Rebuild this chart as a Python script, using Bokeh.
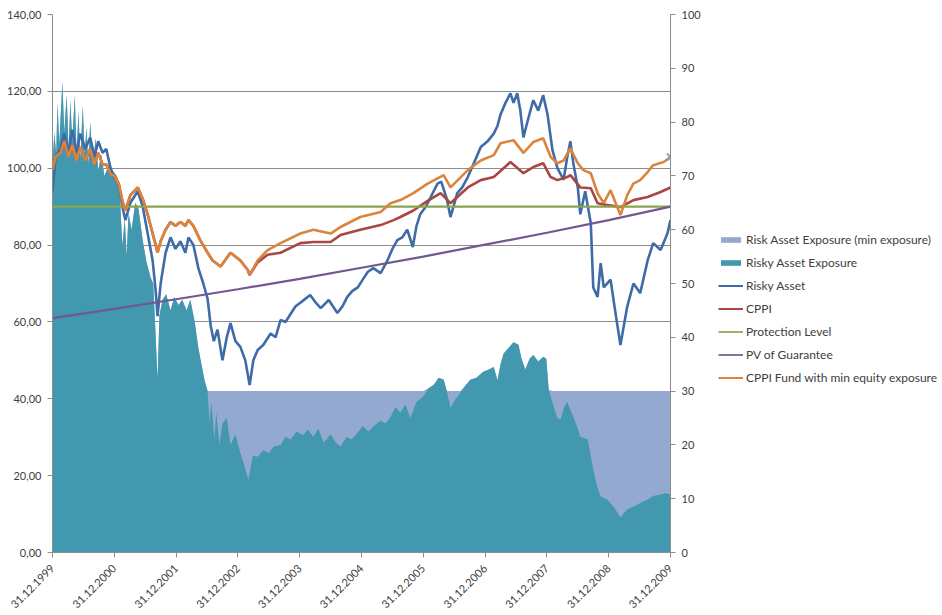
import math
from bokeh.plotting import figure
from bokeh.layouts import row
from bokeh.models import Range1d, LinearAxis, FixedTicker, Legend, LegendItem
from bokeh.embed import file_html
from bokeh.resources import INLINE

# ---------------- data ----------------
year_ticks = [2000, 2001, 2002, 2003, 2004, 2005, 2006, 2007, 2008, 2009, 2010]
year_labels = ["31.12.1999", "31.12.2000", "31.12.2001", "31.12.2002", "31.12.2003",
               "31.12.2004", "31.12.2005", "31.12.2006", "31.12.2007", "31.12.2008",
               "31.12.2009"]
left_ticks = [0, 20, 40, 60, 80, 100, 120, 140]
left_labels = ["0,00", "20,00", "40,00", "60,00", "80,00", "100,00", "120,00", "140,00"]
right_ticks = [0, 10, 20, 30, 40, 50, 60, 70, 80, 90, 100]
series_names = ["Risk Asset Exposure (min exposure)", "Risky Asset Exposure", "Risky Asset",
                "CPPI", "Protection Level", "PV of Guarantee",
                "CPPI Fund with min equity exposure"]

risky_t = [2000.00, 2000.05, 2000.13, 2000.19, 2000.26, 2000.32, 2000.39, 2000.45, 2000.53, 2000.61,
           2000.68, 2000.74, 2000.81, 2000.87, 2000.94, 2001.00, 2001.07, 2001.13, 2001.18, 2001.26,
           2001.38, 2001.46, 2001.54, 2001.62, 2001.67, 2001.70, 2001.75, 2001.83, 2001.91, 2001.99,
           2002.07, 2002.15, 2002.20, 2002.28, 2002.36, 2002.44, 2002.51, 2002.56, 2002.61, 2002.67,
           2002.75, 2002.82, 2002.88, 2002.96, 2003.04, 2003.12, 2003.19, 2003.25, 2003.32, 2003.41,
           2003.53, 2003.61, 2003.69, 2003.77, 2003.85, 2003.93, 2004.01, 2004.09, 2004.17, 2004.26,
           2004.34, 2004.47, 2004.61, 2004.69, 2004.77, 2004.85, 2004.94, 2005.02, 2005.10, 2005.19,
           2005.31, 2005.42, 2005.50, 2005.58, 2005.66, 2005.74, 2005.83, 2005.89, 2005.95, 2006.04,
           2006.12, 2006.23, 2006.29, 2006.38, 2006.44, 2006.55, 2006.63, 2006.72, 2006.81, 2006.93,
           2007.04, 2007.14, 2007.20, 2007.25, 2007.33, 2007.41, 2007.46, 2007.52, 2007.57, 2007.62,
           2007.70, 2007.78, 2007.86, 2007.94, 2008.01, 2008.09, 2008.17, 2008.27, 2008.33, 2008.38,
           2008.43, 2008.50, 2008.54, 2008.62, 2008.71, 2008.75, 2008.82, 2008.87, 2008.92, 2009.03,
           2009.11, 2009.19, 2009.30, 2009.40, 2009.51, 2009.63, 2009.72, 2009.84, 2009.95, 2010.00]
risky_asset = [94, 103, 105, 109, 104, 110, 104, 109, 105, 108,
               103, 107, 104, 105, 100, 97.5, 96, 90, 86.5, 91,
               94, 90, 83, 76, 68, 61.5, 70, 78, 82, 79,
               81, 78, 82, 80, 74, 70, 66, 59, 55, 58,
               50, 56, 59.7, 55, 53.5, 50, 43.6, 50, 52.7, 54,
               57, 56, 60.5, 60, 62, 64, 65, 66, 67, 65,
               63.6, 65.7, 62.3, 64, 66.5, 68, 69, 71, 73, 74,
               72.7, 76, 79, 81.3, 82, 84, 79.5, 85, 88, 90,
               92.5, 96, 96.5, 92, 87.3, 93.5, 95, 97.7, 101, 105.5,
               107, 109, 111, 114, 117, 119.5, 117, 119.5, 115, 108,
               113, 117.7, 115, 119, 114, 104.7, 100, 97, 103, 107,
               101, 95, 88, 94, 85.7, 69, 66.5, 75.3, 69, 71,
               62.3, 54, 64, 70, 67.5, 76, 80.5, 78.7, 83, 86.5]

fund_t = [2000.00, 2000.05, 2000.13, 2000.19, 2000.26, 2000.32, 2000.39, 2000.45, 2000.53, 2000.61,
          2000.68, 2000.74, 2000.81, 2000.87, 2000.94, 2001.00, 2001.07, 2001.13, 2001.18, 2001.26,
          2001.38, 2001.46, 2001.54, 2001.62, 2001.67, 2001.70, 2001.75, 2001.83, 2001.91, 2001.99,
          2002.07, 2002.15, 2002.20, 2002.28, 2002.39, 2002.51, 2002.59, 2002.72, 2002.88, 2003.04,
          2003.16, 2003.19, 2003.32, 2003.48, 2003.69, 2004.01, 2004.22, 2004.50, 2004.66, 2004.98,
          2005.31, 2005.47, 2005.63, 2005.84, 2006.07, 2006.33, 2006.44, 2006.72, 2006.93, 2007.14,
          2007.25, 2007.46, 2007.62, 2007.78, 2007.94, 2008.06, 2008.17, 2008.27, 2008.38, 2008.50,
          2008.59, 2008.71, 2008.82, 2008.92, 2009.03, 2009.11, 2009.19, 2009.30, 2009.40, 2009.51,
          2009.63, 2009.72, 2009.89, 2010.00]
cppi_fund_min = [99.5, 103, 104, 107, 103, 106, 102, 105.5, 102, 105,
                 101, 104, 101, 101, 98.5, 98, 96, 91.5, 89, 93,
                 95, 92, 88, 83, 80, 78, 81, 84, 86, 85,
                 86, 85, 86.5, 85, 81.3, 78, 76, 74.4, 78, 76,
                 73.5, 72.2, 76, 78.7, 80.5, 83, 84, 83, 84.7, 87.3,
                 88.6, 90.9, 91.7, 93.5, 96, 98.2, 95, 99.5, 102, 103.4,
                 106.5, 107.3, 104, 106.8, 107.8, 102.9, 101.3, 102, 105.2, 101.3,
                 99.5, 98.7, 93.5, 90.9, 94.3, 91, 87.8, 93, 96, 96.9,
                 99, 100.8, 101.6, 102.9]

cppi_t = [2000.00, 2000.05, 2000.13, 2000.19, 2000.26, 2000.32, 2000.39, 2000.45, 2000.53, 2000.61,
          2000.68, 2000.74, 2000.81, 2000.87, 2000.94, 2001.00, 2001.07, 2001.13, 2001.18, 2001.26,
          2001.38, 2001.46, 2001.54, 2001.62, 2001.67, 2001.70, 2001.75, 2001.83, 2001.91, 2001.99,
          2002.07, 2002.15, 2002.20, 2002.28, 2002.39, 2002.51, 2002.59, 2002.72, 2002.88, 2003.04,
          2003.16, 2003.19, 2003.32, 2003.48, 2003.69, 2004.01, 2004.22, 2004.50, 2004.66, 2004.98,
          2005.31, 2005.52, 2005.63, 2005.84, 2006.07, 2006.28, 2006.44, 2006.72, 2006.93, 2007.14,
          2007.41, 2007.62, 2007.78, 2007.94, 2008.06, 2008.17, 2008.33, 2008.38, 2008.54, 2008.71,
          2008.82, 2008.98, 2009.19, 2009.40, 2009.63, 2009.84, 2010.00]
cppi = [99.5, 103, 104, 107, 103, 106, 102, 105.5, 102, 105,
        101, 104, 101, 101, 98.5, 98, 96, 91.5, 89, 93,
        95, 92, 88, 83, 80, 78, 81, 84, 86, 85,
        86, 85, 86.5, 85, 81.3, 78, 76, 74.4, 78, 76,
        73.5, 72.2, 75.5, 77.5, 78, 80.5, 80.8, 80.8, 82.6, 84,
        85.2, 86.5, 87.3, 89, 91.5, 93.5, 90.9, 95, 96.9, 97.7,
        101.6, 98.7, 100.3, 101.3, 97.7, 96.9, 97.7, 98.2, 95, 94.8,
        90.9, 90.4, 89.9, 91.7, 92.5, 93.8, 95]

level_t = [2000, 2010]
protection_level = [90, 90]

pv_t = [2000, 2001, 2002, 2003, 2004, 2005, 2006, 2007, 2008, 2009, 2010]
pv_guarantee = [61, 63.4, 65.9, 68.5, 71.2, 74.1, 77.0, 80.1, 83.2, 86.5, 90]

exp_t = [2000.00, 2000.03, 2000.06, 2000.08, 2000.11, 2000.16, 2000.19, 2000.23, 2000.26, 2000.29,
         2000.32, 2000.36, 2000.39, 2000.42, 2000.45, 2000.49, 2000.52, 2000.55, 2000.58, 2000.61,
         2000.65, 2000.70, 2000.74, 2000.79, 2000.84, 2000.91, 2000.97, 2001.04, 2001.07, 2001.10,
         2001.13, 2001.17, 2001.20, 2001.23, 2001.28, 2001.34, 2001.39, 2001.46, 2001.52, 2001.59,
         2001.63, 2001.67, 2001.70, 2001.73, 2001.78, 2001.84, 2001.91, 2001.97, 2002.04, 2002.10,
         2002.17, 2002.23, 2002.30, 2002.36, 2002.41, 2002.46, 2002.51, 2002.54, 2002.57, 2002.62,
         2002.65, 2002.70, 2002.75, 2002.82, 2002.88, 2002.96, 2003.04, 2003.11, 2003.17, 2003.24,
         2003.32, 2003.41, 2003.50, 2003.58, 2003.69, 2003.77, 2003.85, 2003.95, 2004.05, 2004.13,
         2004.22, 2004.30, 2004.39, 2004.50, 2004.58, 2004.66, 2004.76, 2004.84, 2004.94, 2005.02,
         2005.11, 2005.19, 2005.31, 2005.39, 2005.47, 2005.55, 2005.63, 2005.71, 2005.79, 2005.89,
         2006.00, 2006.08, 2006.17, 2006.25, 2006.33, 2006.38, 2006.44, 2006.52, 2006.60, 2006.68,
         2006.76, 2006.86, 2006.97, 2007.06, 2007.14, 2007.20, 2007.25, 2007.30, 2007.38, 2007.46,
         2007.54, 2007.59, 2007.65, 2007.72, 2007.78, 2007.86, 2007.94, 2007.99, 2008.03, 2008.11,
         2008.17, 2008.22, 2008.28, 2008.33, 2008.38, 2008.43, 2008.50, 2008.54, 2008.66, 2008.71,
         2008.75, 2008.82, 2008.87, 2008.98, 2009.08, 2009.19, 2009.26, 2009.30, 2009.39, 2009.47,
         2009.55, 2009.63, 2009.72, 2009.84, 2009.92, 2010.00]
risky_exposure = [72, 78, 74, 83.5, 76, 87.5, 78, 85, 75, 84,
                  76, 85, 74, 82, 73, 83, 74, 79, 72, 80,
                  72, 77, 71, 74, 70, 72, 71, 70, 69, 64,
                  57, 62, 55, 63, 60, 65, 64, 58, 54, 51,
                  50, 40, 32, 44, 47, 48, 45, 47.5, 46, 47,
                  45, 47, 43, 38, 35, 32, 30, 24, 28, 21,
                  26, 20, 24, 25, 20, 22, 18.5, 16, 13.5, 18,
                  17.8, 19, 18.5, 19.7, 20, 21.5, 21, 22.5, 21.8, 22.8,
                  21.5, 23, 20.4, 22, 20.5, 19.7, 21.5, 21, 22.3, 23.5,
                  22.5, 23.4, 24.5, 24, 25.2, 27, 26, 27.5, 25, 28,
                  29, 30.5, 31.2, 32.5, 32.1, 30, 26.9, 28.5, 29.7, 31,
                  32.1, 32.5, 33.6, 34, 34.5, 32, 35, 37, 38, 39.1,
                  38.6, 36, 34, 36, 36.7, 35.5, 36.4, 36, 30.2, 27.1,
                  25, 24.7, 27, 28, 26.5, 25.2, 23, 21.5, 21, 18,
                  15.4, 12, 10.4, 9.8, 8.5, 6.5, 7.5, 8, 8.5, 8.9,
                  9.5, 9.8, 10.5, 10.8, 11, 10.8]
min_exposure = [72, 78, 74, 83.5, 76, 87.5, 78, 85, 75, 84,
                76, 85, 74, 82, 73, 83, 74, 79, 72, 80,
                72, 77, 71, 74, 70, 72, 71, 70, 69, 64,
                57, 62, 55, 63, 60, 65, 64, 58, 54, 51,
                50, 40, 32, 44, 47, 48, 45, 47.5, 46, 47,
                45, 47, 43, 38, 35, 32, 30, 30, 30, 30,
                30, 30, 30, 30, 30, 30, 30, 30, 30, 30,
                30, 30, 30, 30, 30, 30, 30, 30, 30, 30,
                30, 30, 30, 30, 30, 30, 30, 30, 30, 30,
                30, 30, 30, 30, 30, 30, 30, 30, 30, 30,
                30, 30.5, 31.2, 32.5, 32.1, 30, 30, 30, 30, 31,
                32.1, 32.5, 33.6, 34, 34.5, 32, 35, 37, 38, 39.1,
                38.6, 36, 34, 36, 36.7, 35.5, 36.4, 36, 30.2, 30,
                30, 30, 30, 30, 30, 30, 30, 30, 30, 30,
                30, 30, 30, 30, 30, 30, 30, 30, 30, 30,
                30, 30, 30, 30, 30, 30]

# ---------------- styling ----------------
FONT = "Lato"
TXT = "#404040"
GRID = "#8c8c8c"
C_MIN, C_EXP, C_ASSET = "#93A9CF", "#4198AF", "#3F6BA8"
C_CPPI, C_LEVEL, C_PV, C_FUND = "#AA4643", "#89A54E", "#71588F", "#DB843D"
LW = 2.6


def draw_series(fig, lw=LW, y_name="default"):
    """Draw every series on fig; returns the renderers in legend order."""
    kw = {} if y_name == "default" else {"y_range_name": y_name}
    return [
        fig.varea(x=exp_t, y1=0, y2=min_exposure, fill_color=C_MIN, **kw),
        fig.varea(x=exp_t, y1=0, y2=risky_exposure, fill_color=C_EXP, **kw),
        fig.line(risky_t, risky_asset, line_color=C_ASSET, line_width=lw),
        fig.line(cppi_t, cppi, line_color=C_CPPI, line_width=lw),
        fig.line(level_t, protection_level, line_color=C_LEVEL, line_width=lw * 0.85),
        fig.line(pv_t, pv_guarantee, line_color=C_PV, line_width=lw * 0.85),
        fig.line(fund_t, cppi_fund_min, line_color=C_FUND, line_width=lw),
    ]


# ---------------- main chart ----------------
p = figure(width=708, height=614, output_backend="svg", toolbar_location=None,
           x_range=Range1d(2000, 2010), y_range=Range1d(0, 140),
           min_border_left=52, min_border_right=38, min_border_top=14, min_border_bottom=61)
p.extra_y_ranges = {"pct": Range1d(0, 100)}
p.outline_line_color = None

draw_series(p, y_name="pct")
p.scatter([fund_t[-1]], [cppi_fund_min[-1]], marker="x", size=10,
          line_color="#7FA3CC", line_width=2)

xa = p.xaxis[0]
xa.ticker = FixedTicker(ticks=year_ticks)
xa.major_label_overrides = {t: l for t, l in zip(year_ticks, year_labels)}
xa.major_label_orientation = math.pi / 4

ya = p.yaxis[0]
ya.ticker = FixedTicker(ticks=left_ticks)
ya.major_label_overrides = {t: l for t, l in zip(left_ticks, left_labels)}

ra = LinearAxis(y_range_name="pct", ticker=FixedTicker(ticks=right_ticks))
p.add_layout(ra, "right")

for ax in (xa, ya, ra):
    ax.axis_line_color = GRID
    ax.major_tick_line_color = GRID
    ax.major_tick_out = 5
    ax.major_tick_in = 0
    ax.minor_tick_line_color = None
    ax.major_label_text_font = FONT
    ax.major_label_text_font_size = "11px"
    ax.major_label_text_color = TXT
    ax.major_label_standoff = 6
xa.major_label_standoff = 9

p.xgrid.visible = False
p.ygrid.ticker = FixedTicker(ticks=left_ticks)
p.ygrid.grid_line_color = GRID
p.ygrid.grid_line_width = 1

# ---------------- legend panel (series drawn out of its view, legend only) ----------------
q = figure(width=232, height=614, output_backend="svg", toolbar_location=None,
           x_range=Range1d(0, 1), y_range=Range1d(0, 1),
           x_axis_location=None, y_axis_location=None,
           min_border_left=0, min_border_right=0, min_border_top=0, min_border_bottom=0)
q.outline_line_color = None
q.xgrid.visible = False
q.ygrid.visible = False
k = draw_series(q, lw=2)

legend = Legend(items=[LegendItem(label=n, renderers=[r]) for n, r in zip(series_names, k)],
                location=(10, 167))
legend.label_text_font = FONT
legend.label_text_font_size = "12px"
legend.label_text_color = TXT
legend.glyph_width = 25
legend.glyph_height = 7
legend.label_height = 16
legend.label_standoff = 3
legend.spacing = 7
legend.padding = 0
legend.margin = 0
legend.border_line_color = None
legend.background_fill_alpha = 0
q.add_layout(legend, "center")

open("out.html", "w").write(file_html(row(p, q), INLINE))
